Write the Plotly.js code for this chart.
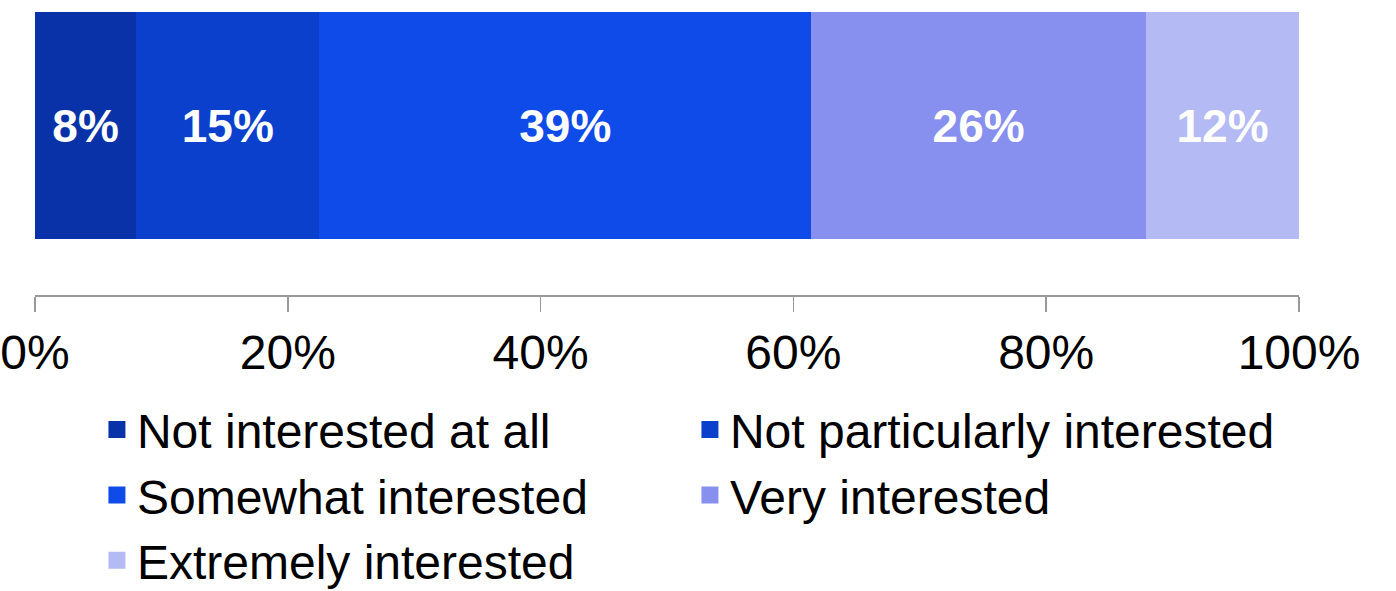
<!DOCTYPE html>
<html>
<head>
<meta charset="utf-8">
<script src="https://cdn.plot.ly/plotly-3.0.1.min.js"></script>
<style>html,body{margin:0;padding:0;background:#fff;}#chart{width:1396px;height:591px;}</style>
</head>
<body>
<div id="chart"></div>
<script>
const categories = ["Not interested at all", "Not particularly interested", "Somewhat interested", "Very interested", "Extremely interested"];
const values = [8.0, 14.5, 38.9, 26.5, 12.1];
const labels = ["8%", "15%", "39%", "26%", "12%"];
const colors = ["#0A32A8", "#0B40CC", "#0F4BE8", "#8790EF", "#B4BAF3"];
const tickValues = [0, 20, 40, 60, 80, 100];
const tickLabels = ["0%", "20%", "40%", "60%", "80%", "100%"];

const FONT = '"Liberation Sans", Arial, sans-serif';

const barTraces = categories.map((name, i) => ({
  type: 'bar',
  orientation: 'h',
  name: name,
  legendgroup: name,
  showlegend: false,
  x: [values[i]],
  y: [0],
  width: 1,
  text: [labels[i]],
  texttemplate: '%{text}',
  textposition: 'inside',
  insidetextanchor: 'middle',
  constraintext: 'none',
  textfont: {family: FONT, size: 46, color: '#ffffff', weight: 'bold'},
  marker: {color: colors[i], line: {width: 0}},
  hoverinfo: 'skip'
}));

// legend-only entries (no data drawn), with a larger swatch
const legendTraces = categories.map((name, i) => ({
  type: 'bar',
  orientation: 'h',
  name: name,
  legendgroup: name,
  showlegend: true,
  x: [null],
  y: [null],
  marker: {color: colors[i], line: {color: colors[i], width: 13}},
  hoverinfo: 'skip'
}));

const layout = {
  width: 1396,
  height: 591,
  margin: {l: 35, r: 97, t: 12, b: 296, autoexpand: false},
  paper_bgcolor: '#ffffff',
  plot_bgcolor: '#ffffff',
  barmode: 'stack',
  bargap: 0,
  showlegend: true,
  font: {family: FONT, color: '#000000'},
  xaxis: {
    range: [0, 100],
    tickvals: tickValues,
    ticktext: tickLabels,
    ticks: 'outside',
    ticklen: 15,
    tickwidth: 1.5,
    tickcolor: '#999999',
    showline: true,
    linecolor: '#999999',
    linewidth: 1.5,
    showgrid: false,
    zeroline: false,
    tickfont: {family: FONT, size: 48, color: '#000000'},
    ticklabelstandoff: 0,
    fixedrange: true
  },
  yaxis: {
    range: [-0.7467, 0.5],
    visible: false,
    fixedrange: true
  },
  legend: {
    orientation: 'h',
    traceorder: 'normal',
    x: 0.049,
    xanchor: 'left',
    y: -0.342,
    yanchor: 'top',
    entrywidth: 548,
    entrywidthmode: 'pixels',
    font: {family: FONT, size: 48, color: '#000000'},
    itemwidth: 30,
    bgcolor: 'rgba(0,0,0,0)'
  }
};

Plotly.newPlot('chart', barTraces.concat(legendTraces), layout, {displayModeBar: false, staticPlot: true});
</script>
</body>
</html>
